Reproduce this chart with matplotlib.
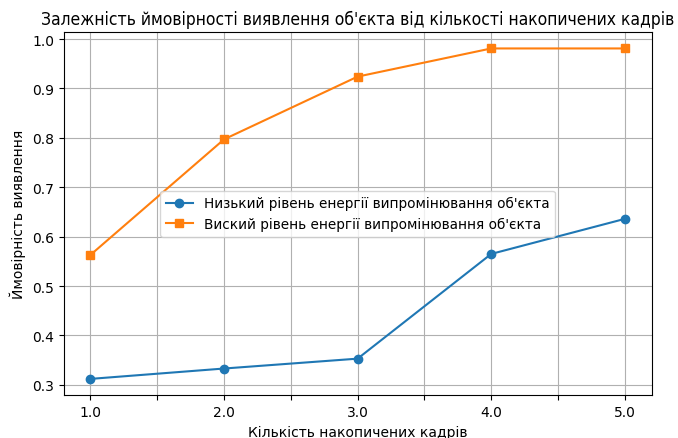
import matplotlib
matplotlib.use('Agg')
import matplotlib.pyplot as plt
import numpy as np

frames = [1.0, 2.0, 3.0, 4.0, 5.0]
low_energy = [0.312, 0.333, 0.353, 0.565, 0.636]
high_energy = [0.563, 0.797, 0.924, 0.981, 0.981]

tick_pos = np.arange(1.0, 5.5, 0.5)
tick_labels = ['1.0', '', '2.0', '', '3.0', '', '4.0', '', '5.0']

fig, ax = plt.subplots(figsize=(6.78, 4.39), dpi=100)

ax.plot(frames, low_energy, marker='o', label="Низький рівень енергії випромінювання об'єкта")
ax.plot(frames, high_energy, marker='s', label="Виский рівень енергії випромінювання об'єкта")

ax.set_xticks(tick_pos)
ax.set_xticklabels(tick_labels)
ax.set_title("Залежність ймовірності виявлення об'єкта від кількості накопичених кадрів",
             fontsize=12.5, fontstretch='condensed')
ax.set_xlabel('Кількість накопичених кадрів')
ax.set_ylabel('Ймовірність виявлення')
ax.grid(True)
ax.legend(loc='center', fontsize=9.8)

fig.subplots_adjust(left=0.094, right=0.961, top=0.925, bottom=0.097)
fig.savefig('out.png', dpi=100)
